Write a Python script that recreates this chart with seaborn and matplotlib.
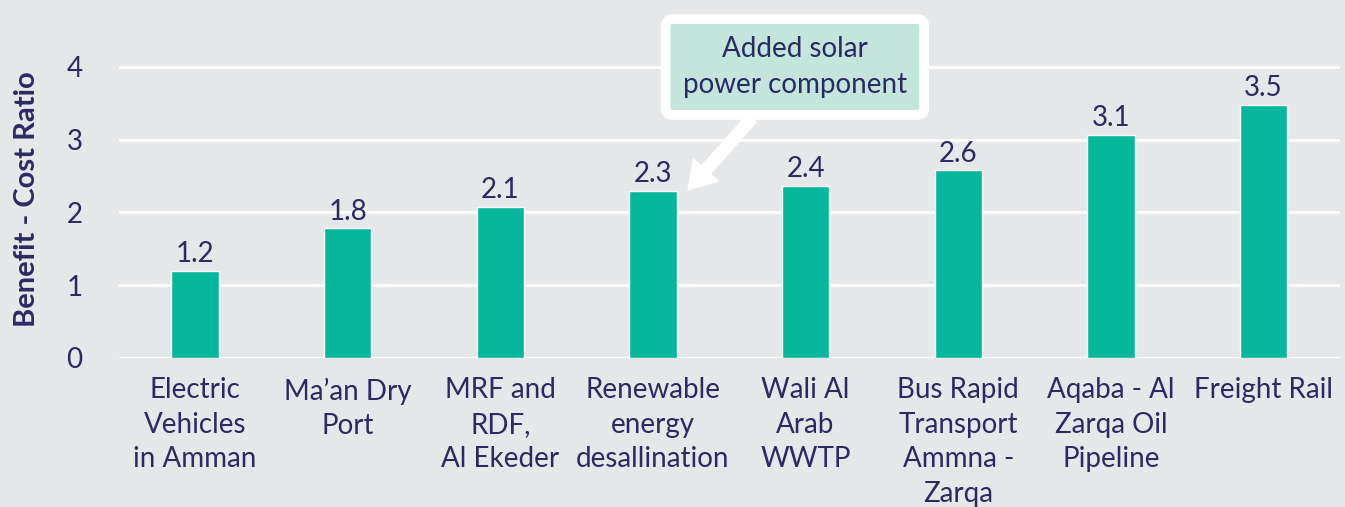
import numpy as np
import pandas as pd
import matplotlib
matplotlib.use('Agg')
import matplotlib.pyplot as plt
import seaborn as sns

# Data
projects = ['Electric\nVehicles\nin Amman', 'Ma\u2019an Dry\nPort', 'MRF and\nRDF,\nAl Ekeder',
            'Renewable\nenergy\ndesallination', 'Wali Al\nArab\nWWTP',
            'Bus Rapid\nTransport\nAmmna -\nZarqa', 'Aqaba - Al\nZarqa Oil\nPipeline', 'Freight Rail']
bcr = [1.2, 1.78, 2.08, 2.3, 2.37, 2.58, 3.07, 3.48]
yticks = [0, 1, 2, 3, 4]
note_text = 'Added solar\npower component'
note_idx = 3

navy = '#2B2A62'
teal = '#05B89C'
bg = '#E6E7E9'

df = pd.DataFrame({'project': projects, 'bcr': bcr})

sns.set_style('white')
plt.rcParams['font.family'] = ['Lato', 'DejaVu Sans']

fig = plt.figure(figsize=(13.45, 5.07), dpi=100, facecolor=bg)
ax = fig.add_axes([0.0882, 0.294, 0.908, 0.703])
ax.set_facecolor(bg)

sns.barplot(data=df, x='project', y='bcr', color=teal, width=0.31, saturation=1, ax=ax, zorder=3)

for i, v in enumerate(bcr):
    ax.text(i, v + 0.05, f'{v:.1f}', ha='center', va='bottom', fontsize=20, color=navy, zorder=4)

ax.set_ylim(0, 4.9)
ax.set_xlim(-0.5, len(projects) - 0.5)
ax.set_yticks(yticks)
ax.grid(axis='y', color='white', linewidth=2.2, zorder=0)
ax.set_axisbelow(True)
for s in ax.spines.values():
    s.set_visible(False)
ax.tick_params(axis='both', length=0, labelsize=20, labelcolor=navy)
ax.tick_params(axis='y', pad=26)
ax.tick_params(axis='x', pad=14)
for lbl in ax.get_xticklabels():
    lbl.set_linespacing(1.4)
ax.set_xlabel('')
ax.set_ylabel('Benefit - Cost Ratio', fontsize=21, fontweight='bold', color=navy)
ax.yaxis.set_label_coords(-0.064, 0.445)

ax.annotate(note_text, xy=(note_idx + 0.23, 2.31), xytext=(3.93, 4.0),
            ha='center', va='center', fontsize=20, color=navy, linespacing=1.45,
            bbox=dict(boxstyle='round,pad=0.62,rounding_size=0.25', fc='#C3E5DC', ec='white', lw=7),
            arrowprops=dict(arrowstyle='simple,tail_width=0.35,head_width=1.0,head_length=0.8',
                            fc='white', ec='white', mutation_scale=24, relpos=(0.39, 0), shrinkA=0, shrinkB=0),
            zorder=6)

fig.savefig('out.png', dpi=100, facecolor=bg)
